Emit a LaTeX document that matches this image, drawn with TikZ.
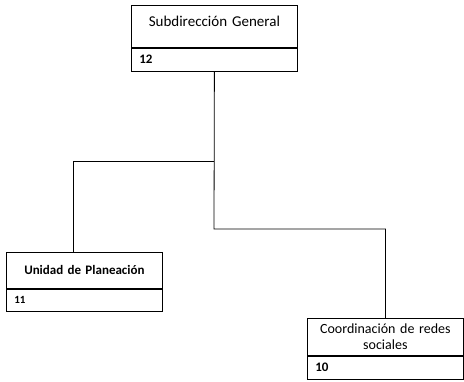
\documentclass[tikz,border=0pt]{standalone}
\usepackage{fontspec}
\setmainfont{Carlito}
\begin{document}
\begin{tikzpicture}
		[x=1pt,y=-1pt,line width=0.8pt,
		cargo/.style={draw,anchor=north west,inner sep=0pt,align=center},
		plazas/.style={draw,anchor=north west,inner xsep=8pt,inner ysep=0pt,
			align=left,font=\bfseries\fontsize{13}{15}\selectfont}]
		\useasboundingbox (0,0) rectangle (464,382);
		% titular
		\node[cargo,text width=166pt,minimum height=42pt,text depth=10pt,
			font=\fontsize{15}{18}\selectfont] (sub) at (131,5) {Subdirecci\'on General};
		\node[plazas,text width=150pt,minimum height=23pt] (sub12) at (sub.south west) {12};
		% unidades
		\node[cargo,text width=156pt,minimum height=36pt,
			font=\bfseries\fontsize{13}{16}\selectfont] (unidad) at (6,252) {Unidad de Planeaci\'on};
		\node[plazas,text width=140pt,minimum height=22pt,
			font=\bfseries\fontsize{11}{13}\selectfont] (unidad11) at (unidad.south west) {11};
		\node[cargo,text width=156pt,minimum height=37pt,
			font=\fontsize{14}{16.5}\selectfont] (coord) at (307,318) {Coordinaci\'on de redes\\sociales};
		\node[plazas,text width=140pt,minimum height=23pt] (coord10) at (coord.south west) {10};
		% lineas
		\coordinate (ramaA) at (214,161);
		\coordinate (ramaB) at (214,229);
		\draw (sub12.south) -- (ramaB) -| (coord.north);
		\draw (ramaA) -| ([xshift=-11pt]unidad.north);
	\end{tikzpicture}
\end{document}
